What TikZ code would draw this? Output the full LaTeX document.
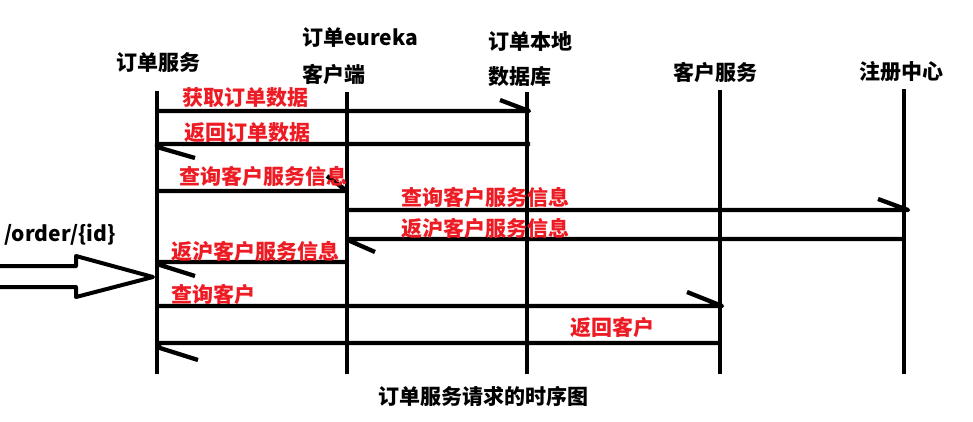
\documentclass[tikz,border=0pt]{standalone}
\usepackage{fontspec}
\newfontfamily\cjk{Noto Sans CJK SC}
\definecolor{paintred}{RGB}{237,28,36}
\tikzset{
  lbl/.style={font=\cjk\bfseries\fontsize{21}{25}\selectfont, inner sep=0pt},
  redlbl/.style={lbl, text=paintred},
  lifeline/.style={line width=4.3pt},
  msg/.style={line width=4.3pt, line join=round},
  bigarrow/.style={line width=4pt, line join=round},
}
\begin{document}
\begin{tikzpicture}[x=1pt,y=-1pt]
\useasboundingbox (0,0) rectangle (973,421);
% headings
\node[lbl] (h1) at (158,63) {订单服务};
\node[lbl,anchor=west] (h2a) at (302,38) {订单eureka};
\node[lbl,anchor=west] (h2b) at (302,74) {客户端};
\node[lbl,anchor=west] (h3a) at (488,42) {订单本地};
\node[lbl,anchor=west] (h3b) at (488,77) {数据库};
\node[lbl] (h4) at (715,72) {客户服务};
\node[lbl] (h5) at (901,72) {注册中心};
% lifelines
\coordinate (L1t) at (157,91);  \coordinate (L1b) at (157,374);
\coordinate (L2t) at (347,92);  \coordinate (L2b) at (347,374);
\coordinate (L3t) at (527,92);  \coordinate (L3b) at (527,374);
\coordinate (L4t) at (720,90);  \coordinate (L4b) at (720,374);
\coordinate (L5t) at (904,89);  \coordinate (L5b) at (904,374);
\foreach \i in {1,...,5} {\draw[lifeline] (L\i t) -- (L\i b);}
% message end points
\coordinate (m1a) at (157,111); \coordinate (m1b) at (529,111);
\coordinate (m2a) at (530,144); \coordinate (m2b) at (157,144);
\coordinate (m3a) at (157,191); \coordinate (m3b) at (347,191);
\coordinate (m4a) at (347,210); \coordinate (m4b) at (908,210);
\coordinate (m5a) at (904,239); \coordinate (m5b) at (347,239);
\coordinate (m6a) at (347,262); \coordinate (m6b) at (157,262);
\coordinate (m7a) at (157,306); \coordinate (m7b) at (722,306);
\coordinate (m8a) at (720,343); \coordinate (m8b) at (157,343);
% messages with single-stroke heads
\draw[msg] (m1a) -- (m1b) -- ++(-29,-11);
\draw[msg] (m2a) -- (m2b) -- ++(0,3) -- ++(38,11);
\draw[msg] (m3a) -- (m3b) -- ++(-20,-15);
\draw[msg] (m4a) -- (m4b) -- ++(-30,-11);
\draw[msg] (m5a) -- (m5b) -- ++(3,2) -- ++(25,11);
\draw[msg] (m6a) -- (m6b) -- ++(3,3) -- ++(35,11);
\draw[msg] (m7a) -- (m7b) -- ++(-35,-14);
\draw[msg] (m8a) -- (m8b) -- ++(3,5) -- ++(38,12);
% message labels
\node[redlbl] (t1) at (245,98) {获取订单数据};
\node[redlbl] (t2) at (247,133) {返回订单数据};
\node[redlbl] (t3) at (263,176) {查询客户服务信息};
\node[redlbl] (t4) at (485,197) {查询客户服务信息};
\node[redlbl] (t5) at (485,228) {返沪客户服务信息};
\node[redlbl] (t6) at (255,251) {返沪客户服务信息};
\node[redlbl] (t7) at (213,294) {查询客户};
\node[redlbl] (t8) at (612,327) {返回客户};
% incoming request
\node[lbl,anchor=west] (req) at (4,235) {/order/\{id\}};
\draw[bigarrow] (0,266) -- (76,266) -- (76,256) -- (153,277) -- (76,297) -- (76,287) -- (0,287);
% caption
\node[lbl] (cap) at (483,396) {订单服务请求的时序图};
\end{tikzpicture}
\end{document}
